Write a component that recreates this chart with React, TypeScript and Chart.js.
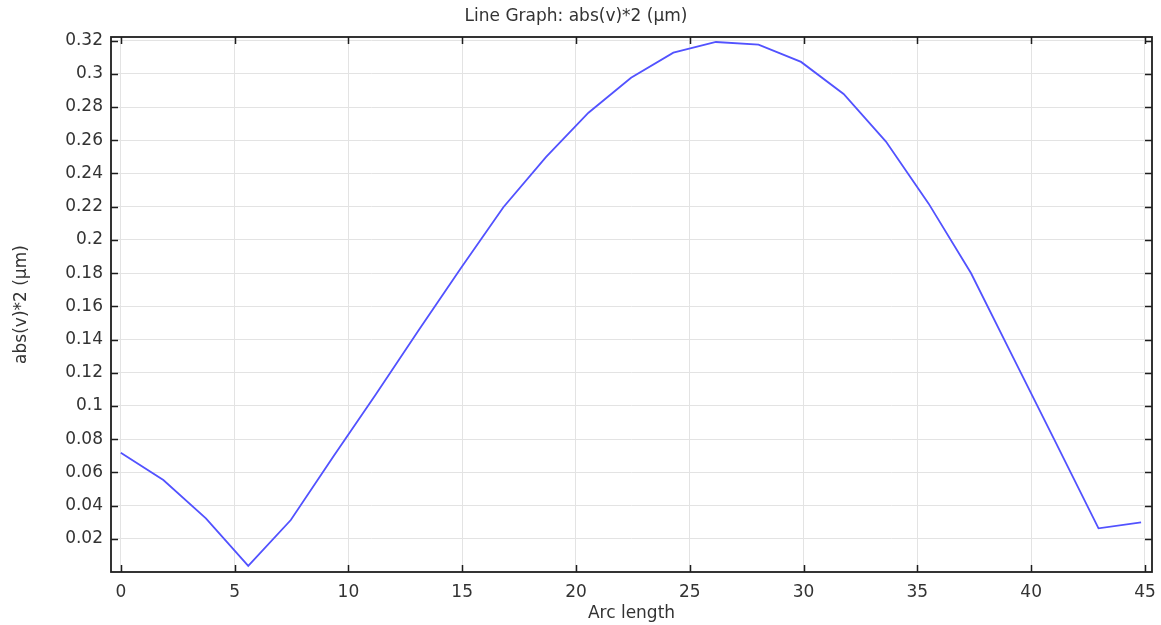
import React, { useEffect, useRef } from "react";
import { Chart, registerables } from "chart.js";

Chart.register(...registerables);

const chartTitle = "Line Graph: abs(v)*2 (µm)";
const xAxisTitle = "Arc length";
const yAxisTitle = "abs(v)*2 (µm)";

const arcLength = [
  0, 1.87, 3.74, 5.6, 7.47, 9.34, 11.21, 13.08, 14.94, 16.81, 18.68, 20.55,
  22.42, 24.28, 26.15, 28.02, 29.89, 31.76, 33.62, 35.49, 37.36, 39.23, 41.1,
  42.96, 44.83,
];
const absV2 = [
  0.0718, 0.0554, 0.0323, 0.0037, 0.0313, 0.0695, 0.107, 0.1455, 0.183,
  0.2197, 0.2498, 0.2766, 0.2977, 0.3128, 0.3192, 0.3176, 0.3072, 0.2879,
  0.2592, 0.222, 0.1799, 0.1287, 0.0775, 0.0263, 0.0299,
];

const xTicks = [0, 5, 10, 15, 20, 25, 30, 35, 40, 45];
const yTicks = [
  0.02, 0.04, 0.06, 0.08, 0.1, 0.12, 0.14, 0.16, 0.18, 0.2, 0.22, 0.24, 0.26,
  0.28, 0.3, 0.32,
];

const X_MIN = -0.43;
const X_MAX = 45.31;
const Y_MIN = 0;
const Y_MAX = 0.3222;

const FONT = "'DejaVu Sans', sans-serif";
const FS = 17;
const TEXT = "#333333";

const frameAndTicks = {
  id: "frameAndTicks",
  afterDatasetsDraw(chart: any) {
    const { ctx, chartArea, scales } = chart;
    const { left, right, top, bottom } = chartArea;
    const len = 7;
    ctx.save();
    ctx.strokeStyle = "#1e1e1e";
    ctx.lineWidth = 1.5;
    ctx.beginPath();
    for (const t of scales.x.ticks) {
      const px = Math.round(scales.x.getPixelForValue(t.value)) + 0.5;
      ctx.moveTo(px, bottom);
      ctx.lineTo(px, bottom - len);
      ctx.moveTo(px, top);
      ctx.lineTo(px, top + len);
    }
    for (const t of scales.y.ticks) {
      const py = Math.round(scales.y.getPixelForValue(t.value)) + 0.5;
      ctx.moveTo(left, py);
      ctx.lineTo(left + len, py);
      ctx.moveTo(right, py);
      ctx.lineTo(right - len, py);
    }
    ctx.stroke();
    ctx.lineWidth = 1.8;
    ctx.strokeRect(left, top, right - left, bottom - top);
    ctx.restore();
  },
};

export default function App() {
  const ref = useRef<HTMLCanvasElement | null>(null);

  useEffect(() => {
    document.body.style.margin = "0";
    const canvas = ref.current;
    if (!canvas) return;
    const chart = new Chart(canvas, {
      type: "line",
      data: {
        datasets: [
          {
            data: arcLength.map((x, i) => ({ x, y: absV2[i] })),
            borderColor: "rgb(82,82,255)",
            borderWidth: 1.8,
            pointRadius: 0,
            tension: 0,
            fill: false,
          },
        ],
      },
      options: {
        responsive: false,
        animation: false,
        devicePixelRatio: 1,
        layout: { padding: { top: 0, right: 9, bottom: 0, left: 0 } },
        plugins: {
          legend: { display: false },
          tooltip: { enabled: false },
          title: {
            display: true,
            text: chartTitle,
            color: TEXT,
            font: { family: FONT, size: FS, weight: "normal" },
            padding: { top: 6, bottom: 10.6 },
          },
        },
        scales: {
          x: {
            type: "linear",
            min: X_MIN,
            max: X_MAX,
            afterBuildTicks: (scale: any) => {
              scale.ticks = xTicks.map((v) => ({ value: v }));
            },
            afterFit: (scale: any) => {
              scale.height = 53;
              scale.paddingLeft = 0;
              scale.paddingRight = 0;
            },
            ticks: {
              autoSkip: false,
              maxRotation: 0,
              padding: 10,
              color: TEXT,
              font: { family: FONT, size: FS },
              callback: (v: any) => String(v),
            },
            grid: { color: "#e3e3e3", lineWidth: 1, drawTicks: false },
            border: { display: false },
            title: {
              display: true,
              text: xAxisTitle,
              color: TEXT,
              font: { family: FONT, size: FS },
              padding: { top: 0, bottom: 1 },
            },
          },
          y: {
            type: "linear",
            min: Y_MIN,
            max: Y_MAX,
            afterBuildTicks: (scale: any) => {
              scale.ticks = yTicks.map((v) => ({ value: v }));
            },
            afterFit: (scale: any) => {
              scale.width = 111;
              scale.paddingTop = 0;
              scale.paddingBottom = 0;
            },
            ticks: {
              autoSkip: false,
              padding: 8,
              color: TEXT,
              font: { family: FONT, size: FS },
              callback: (v: any) => String(v),
            },
            grid: { color: "#e3e3e3", lineWidth: 1, drawTicks: false },
            border: { display: false },
            title: {
              display: true,
              text: yAxisTitle,
              color: TEXT,
              font: { family: FONT, size: FS },
              padding: { top: 11, bottom: 0 },
            },
          },
        },
      },
      plugins: [frameAndTicks],
    });
    return () => chart.destroy();
  }, []);

  return (
    <div style={{ width: 1161, height: 625 }}>
      <canvas ref={ref} width={1161} height={625} />
    </div>
  );
}
